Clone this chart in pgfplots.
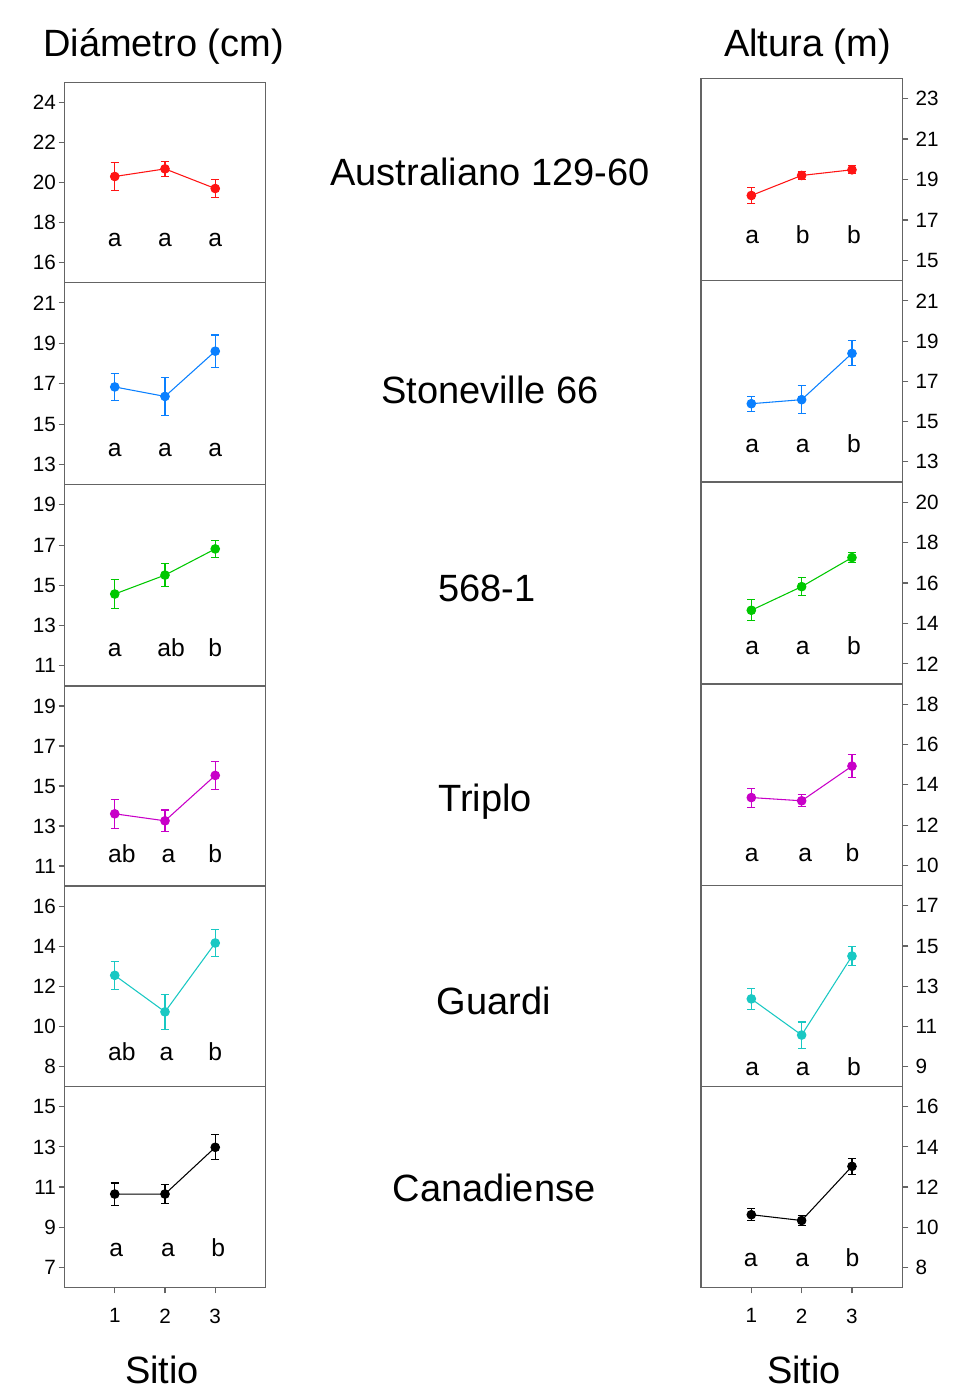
\documentclass[border=0pt]{standalone}
\usepackage{fontspec}
\setmainfont{Liberation Sans}
\usepackage{pgfplots}
\pgfplotsset{compat=1.18}
\definecolor{cred}{RGB}{255,20,20}
\definecolor{cblue}{RGB}{10,128,255}
\definecolor{cgreen}{RGB}{0,200,0}
\definecolor{cmag}{RGB}{200,0,200}
\definecolor{ccyan}{RGB}{25,200,195}
\definecolor{cblack}{RGB}{0,0,0}
\definecolor{framegray}{RGB}{100,100,100}
\newcommand{\tickfont}{\fontsize{15.5}{15.5}\selectfont}
\newcommand{\letfont}{\fontsize{18.5}{18.5}\selectfont}
\newcommand{\bigfont}{\fontsize{28.5}{28.5}\selectfont}
\tikzset{lt/.style={font=\letfont, anchor=base}}
\pgfplotsset{
  panel/.style={
    scale only axis, width=150.75pt, xmin=0, xmax=4,
    axis line style={draw=framegray, line width=1pt},
    tick align=outside, major tick length=4.5pt,
    tick style={draw=framegray, line width=0.8pt},
    xtick=\empty,
    tick label style={font=\tickfont},
    /pgf/number format/assume math mode=true,
    clip=false, anchor=north west,
  },
  leftp/.style={panel, ytick pos=left, yticklabel style={xshift=1.5pt}},
  rightp/.style={panel, width=150.975pt, ytick pos=right, yticklabel pos=right, yticklabel style={xshift=2pt}},
  bottomp/.style={xtick={1,2,3}, xtick pos=bottom, xticklabel style={yshift=-8pt}},
  ser/.style={color=#1, draw=#1, line width=0.8pt, mark=*, mark size=3.2pt, mark options={fill=#1, draw=#1},
    error bars/.cd, y dir=both, y explicit,
    error bar style={line width=0.8pt, color=#1, draw=#1},
    error mark options={rotate=90, mark size=3pt, line width=0.8pt, color=#1, draw=#1}},
}
\begin{document}
\begin{tikzpicture}
\useasboundingbox (0pt,0pt) rectangle (733.5pt,-1050pt);
% ---------------- Left column: Diametro ----------------
\begin{axis}[leftp, at={(48.375pt,-61.725pt)}, height=150.3pt, ymin=15, ymax=25, ytick={16,18,20,22,24}]
\addplot[ser=cred] coordinates {(1,20.3) +- (0,0.7) (2,20.68) +- (0,0.36) (3,19.7) +- (0,0.47)};
\node[lt] at (axis cs:1,16.82) {a};
\node[lt] at (axis cs:2,16.82) {a};
\node[lt] at (axis cs:3,16.82) {a};
\end{axis}
\begin{axis}[leftp, at={(48.375pt,-212.025pt)}, height=151.5pt, ymin=12, ymax=22, ytick={13,15,17,19,21}]
\addplot[ser=cblue] coordinates {(1,16.84) +- (0,0.68) (2,16.37) +- (0,0.93) (3,18.61) +- (0,0.8)};
\node[lt] at (axis cs:1,13.38) {a};
\node[lt] at (axis cs:2,13.38) {a};
\node[lt] at (axis cs:3,13.38) {a};
\end{axis}
\begin{axis}[leftp, at={(48.375pt,-363.525pt)}, height=150.975pt, ymin=10, ymax=20, ytick={11,13,15,17,19}]
\addplot[ser=cgreen] coordinates {(1,14.57) +- (0,0.7) (2,15.51) +- (0,0.57) (3,16.81) +- (0,0.43)};
\node[lt] at (axis cs:1,11.45) {a};
\node[lt] at (axis cs:2.12,11.45) {ab};
\node[lt] at (axis cs:3,11.45) {b};
\end{axis}
\begin{axis}[leftp, at={(48.375pt,-514.5pt)}, height=150pt, ymin=10, ymax=20, ytick={11,13,15,17,19}]
\addplot[ser=cmag] coordinates {(1,13.61) +- (0,0.72) (2,13.26) +- (0,0.54) (3,15.53) +- (0,0.7)};
\node[lt] at (axis cs:1.14,11.19) {ab};
\node[lt] at (axis cs:2.07,11.19) {a};
\node[lt] at (axis cs:3,11.19) {b};
\end{axis}
\begin{axis}[leftp, at={(48.375pt,-664.5pt)}, height=150.525pt, ymin=7, ymax=17, ytick={8,10,12,14,16}]
\addplot[ser=ccyan] coordinates {(1,12.55) +- (0,0.69) (2,10.73) +- (0,0.86) (3,14.16) +- (0,0.66)};
\node[lt] at (axis cs:1.14,8.31) {ab};
\node[lt] at (axis cs:2.03,8.31) {a};
\node[lt] at (axis cs:3,8.31) {b};
\end{axis}
\begin{axis}[leftp, bottomp, at={(48.375pt,-815.025pt)}, height=150.45pt, ymin=6, ymax=16, ytick={7,9,11,13,15}]
\addplot[ser=cblack] coordinates {(1,10.65) +- (0,0.55) (2,10.65) +- (0,0.47) (3,12.98) +- (0,0.62)};
\node[lt] at (axis cs:1.03,7.52) {a};
\node[lt] at (axis cs:2.06,7.52) {a};
\node[lt] at (axis cs:3.06,7.52) {b};
\end{axis}
% ---------------- Right column: Altura ----------------
\begin{axis}[rightp, at={(525.75pt,-58.725pt)}, height=151.8pt, ymin=14, ymax=24, ytick={15,17,19,21,23}]
\addplot[ser=cred] coordinates {(1,18.21) +- (0,0.4) (2,19.2) +- (0,0.18) (3,19.48) +- (0,0.2)};
\node[lt] at (axis cs:1.02,15.86) {a};
\node[lt] at (axis cs:2.02,15.86) {b};
\node[lt] at (axis cs:3.04,15.86) {b};
\end{axis}
\begin{axis}[rightp, at={(525.75pt,-210.525pt)}, height=150.975pt, ymin=12, ymax=22, ytick={13,15,17,19,21}]
\addplot[ser=cblue] coordinates {(1,15.89) +- (0,0.38) (2,16.09) +- (0,0.69) (3,18.39) +- (0,0.62)};
\node[lt] at (axis cs:1.02,13.49) {a};
\node[lt] at (axis cs:2.02,13.49) {a};
\node[lt] at (axis cs:3.04,13.49) {b};
\end{axis}
\begin{axis}[rightp, at={(525.75pt,-361.5pt)}, height=151.5pt, ymin=11, ymax=21, ytick={12,14,16,18,20}]
\addplot[ser=cgreen] coordinates {(1,14.65) +- (0,0.52) (2,15.82) +- (0,0.43) (3,17.26) +- (0,0.26)};
\node[lt] at (axis cs:1.02,12.45) {a};
\node[lt] at (axis cs:2.02,12.45) {a};
\node[lt] at (axis cs:3.04,12.45) {b};
\end{axis}
\begin{axis}[rightp, at={(525.75pt,-513pt)}, height=151.275pt, ymin=9, ymax=19, ytick={10,12,14,16,18}]
\addplot[ser=cmag] coordinates {(1,13.37) +- (0,0.47) (2,13.21) +- (0,0.3) (3,14.93) +- (0,0.58)};
\node[lt] at (axis cs:1.01,10.2) {a};
\node[lt] at (axis cs:2.07,10.2) {a};
\node[lt] at (axis cs:3.01,10.2) {b};
\end{axis}
\begin{axis}[rightp, at={(525.75pt,-664.275pt)}, height=150.75pt, ymin=8, ymax=18, ytick={9,11,13,15,17}]
\addplot[ser=ccyan] coordinates {(1,12.37) +- (0,0.53) (2,10.57) +- (0,0.65) (3,14.5) +- (0,0.49)};
\node[lt] at (axis cs:1.02,8.54) {a};
\node[lt] at (axis cs:2.02,8.54) {a};
\node[lt] at (axis cs:3.04,8.54) {b};
\end{axis}
\begin{axis}[rightp, bottomp, at={(525.75pt,-815.025pt)}, height=150.45pt, ymin=7, ymax=17, ytick={8,10,12,14,16}]
\addplot[ser=cblack] coordinates {(1,10.62) +- (0,0.29) (2,10.33) +- (0,0.27) (3,13.03) +- (0,0.41)};
\node[lt] at (axis cs:0.99,8.03) {a};
\node[lt] at (axis cs:2.01,8.03) {a};
\node[lt] at (axis cs:3.01,8.03) {b};
\end{axis}
% ---------------- Texts ----------------
\begin{scope}[x=0.75pt,y=-0.75pt]
\node[font=\bigfont, anchor=base] at (163.5,56) {Diámetro (cm)};
\node[font=\bigfont, anchor=base] at (807.5,56) {Altura (m)};
\node[font=\bigfont, anchor=base] at (490,185) {Australiano 129-60};
\node[font=\bigfont, anchor=base] at (490,403) {Stoneville 66};
\node[font=\bigfont, anchor=base] at (487,601) {568-1};
\node[font=\bigfont, anchor=base] at (485,811) {Triplo};
\node[font=\bigfont, anchor=base] at (494,1014) {Guardi};
\node[font=\bigfont, anchor=base] at (494,1201) {Canadiense};
\node[font=\bigfont, anchor=base] at (162,1383) {Sitio};
\node[font=\bigfont, anchor=base] at (804,1383) {Sitio};
\end{scope}
\end{tikzpicture}
\end{document}
